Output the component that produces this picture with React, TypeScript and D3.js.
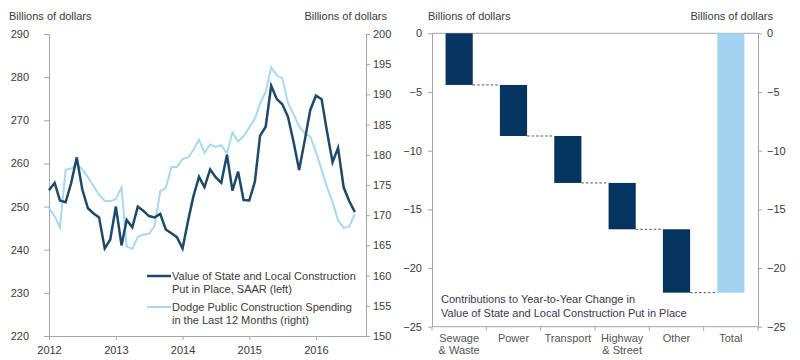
import React, { useEffect, useRef } from 'react'
import * as d3 from 'd3'

// monthly, Jan 2012 .. Aug 2016
const stateLocal: number[] = [
  253.8, 255.5, 251.4, 251.0, 255.4, 261.4, 254.0, 249.6, 248.4, 247.5, 240.3, 242.3,
  250.0, 241.0, 246.9, 245.2, 250.0, 249.0, 247.8, 247.5, 248.3, 244.7, 243.8, 242.9,
  240.3, 246.9, 252.3, 256.9, 254.5, 258.6, 256.8, 255.5, 262.0, 253.7, 258.1, 251.5,
  251.4, 255.8, 266.4, 268.5, 278.0, 274.9, 273.7, 270.8, 264.9, 258.5, 265.4, 272.4,
  275.7, 274.9, 267.5, 260.3, 263.6, 254.4, 251.3, 248.7
]
const dodge: number[] = [
  171.2, 169.8, 168.0, 177.5, 177.7, 178.4, 177.6, 176.3, 174.8, 173.4, 172.4, 172.3,
  172.7, 174.6, 164.8, 164.4, 166.4, 166.8, 166.9, 168.2, 174.0, 174.5, 178.0, 178.0,
  179.3, 179.6, 180.8, 182.5, 180.3, 181.7, 181.3, 181.6, 180.2, 183.7, 182.2, 183.1,
  184.5, 186.0, 188.5, 190.4, 194.5, 193.1, 192.7, 188.6, 186.7, 184.7, 183.6, 183.0,
  180.5, 177.5, 174.7, 172.2, 169.2, 167.9, 168.1, 170.2
]
const leftTicks = [220, 230, 240, 250, 260, 270, 280, 290]
const rightTicks = [150, 155, 160, 165, 170, 175, 180, 185, 190, 195, 200]

const categories = ['Sewage\n& Waste', 'Power', 'Transport', 'Highway\n& Street', 'Other', 'Total']
const contributions = [-4.4, -4.35, -4.0, -3.95, -5.4]
const waterTicks = [-25, -20, -15, -10, -5, 0]

const legendLabels = [
  ['Value of State and Local Construction', 'Put in Place, SAAR (left)'],
  ['Dodge Public Construction Spending', 'in the Last 12 Months (right)']
]
const noteLines = ['Contributions to Year-to-Year Change in', 'Value of State and Local Construction Put in Place']

const DARK = '#1d4a6b'
const LIGHT = '#a9d8f3'
const NAVY = '#04345f'
const AXIS = '#a6a6a6'
const TEXT = '#3a3a3a'
const FONT = '"Liberation Sans", Arial, sans-serif'

export default function App() {
  const ref = useRef<SVGSVGElement>(null)

  useEffect(() => {
    const svg = d3.select(ref.current)
    svg.selectAll('*').remove()
    svg.style('font-family', FONT)

    // ---------- left: line chart ----------
    const months = d3.timeMonth.range(new Date(2012, 0, 1), new Date(2016, 8, 1))
    const x = d3.scaleTime().domain([new Date(2012, 0, 1), new Date(2016, 9, 1)]).range([49, 366])
    const yL = d3.scaleLinear().domain([220, 290]).range([336, 34])
    const yR = d3.scaleLinear().domain([150, 200]).range([336, 34])

    const styleAxis = (g: any) => {
      g.selectAll('path, line').attr('stroke', AXIS)
      g.selectAll('text').attr('fill', TEXT).style('font-size', '11px').style('font-family', FONT)
    }

    svg.append('g').attr('transform', 'translate(49,0)')
      .call(d3.axisLeft(yL).tickValues(leftTicks).tickSize(5).tickSizeOuter(0).tickPadding(15))
      .call(styleAxis)
    svg.append('g').attr('transform', 'translate(366,0)')
      .call(d3.axisRight(yR).tickValues(rightTicks).tickSize(4).tickSizeOuter(0).tickPadding(3))
      .call(styleAxis)
    svg.append('g').attr('transform', 'translate(0,336)')
      .call(d3.axisBottom(x).ticks(d3.timeYear).tickFormat(d3.timeFormat('%Y') as any)
        .tickSize(4).tickSizeOuter(0).tickPadding(6))
      .call(styleAxis)

    const lineL = d3.line<number>().x((d, i) => x(months[i])).y(d => yL(d))
    const lineR = d3.line<number>().x((d, i) => x(months[i])).y(d => yR(d))

    svg.append('path').datum(dodge).attr('d', lineR)
      .attr('fill', 'none').attr('stroke', LIGHT).attr('stroke-width', 2)
    svg.append('path').datum(stateLocal).attr('d', lineL)
      .attr('fill', 'none').attr('stroke', DARK).attr('stroke-width', 2.5)

    svg.append('text').attr('x', 9).attr('y', 20).text('Billions of dollars')
      .attr('fill', TEXT).style('font-size', '11px')
    svg.append('text').attr('x', 387).attr('y', 20).attr('text-anchor', 'end').text('Billions of dollars')
      .attr('fill', TEXT).style('font-size', '11px')

    // legend
    const lg = svg.append('g')
    ;[DARK, LIGHT].forEach((c, i) => {
      const top = 276 + i * 31
      lg.append('line').attr('x1', 147).attr('x2', 171).attr('y1', top).attr('y2', top)
        .attr('stroke', c).attr('stroke-width', i === 0 ? 2.5 : 2)
      legendLabels[i].forEach((t, j) => {
        lg.append('text').attr('x', 172).attr('y', top + 4 + j * 12.5).text(t)
          .attr('fill', TEXT).style('font-size', '11px')
      })
    })

    // ---------- right: waterfall ----------
    const xb = d3.scaleBand().domain(categories).range([432, 758]).paddingInner(0.5).paddingOuter(0.25)
    const yW = d3.scaleLinear().domain([-25, 0]).range([326.7, 33.3])
    const total = d3.sum(contributions)
    const bars = contributions.map((v, i) => {
      const start = d3.sum(contributions.slice(0, i))
      return { cat: categories[i], y0: start, y1: start + v, color: NAVY }
    })
    bars.push({ cat: categories[5], y0: 0, y1: total, color: '#a3d3f1' })

    svg.append('g').attr('transform', 'translate(432,0)')
      .call(d3.axisLeft(yW).tickValues(waterTicks).tickSize(4).tickSizeOuter(0).tickPadding(6))
      .call(styleAxis)
    svg.append('g').attr('transform', 'translate(758,0)')
      .call(d3.axisRight(yW).tickValues(waterTicks).tickSize(4).tickSizeOuter(0).tickPadding(5))
      .call(styleAxis)
    svg.append('line').attr('x1', 432).attr('x2', 758).attr('y1', yW(0)).attr('y2', yW(0)).attr('stroke', AXIS)
    svg.append('line').attr('x1', 432).attr('x2', 758).attr('y1', yW(-25)).attr('y2', yW(-25)).attr('stroke', AXIS)
    const step = xb.step()
    d3.range(categories.length + 1).forEach(i => {
      const px = 432 + i * step
      svg.append('line').attr('x1', px).attr('x2', px).attr('y1', yW(-25)).attr('y2', yW(-25) + 4).attr('stroke', AXIS)
    })

    svg.selectAll('rect.bar').data(bars).enter().append('rect')
      .attr('class', 'bar')
      .attr('x', d => xb(d.cat)!)
      .attr('width', xb.bandwidth())
      .attr('y', d => yW(Math.max(d.y0, d.y1)))
      .attr('height', d => Math.abs(yW(d.y1) - yW(d.y0)))
      .attr('fill', d => d.color)

    // connectors
    bars.slice(0, -1).forEach((b, i) => {
      svg.append('line')
        .attr('x1', xb(b.cat)! + xb.bandwidth()).attr('x2', xb(bars[i + 1].cat)!)
        .attr('y1', yW(b.y1)).attr('y2', yW(b.y1))
        .attr('stroke', '#555').attr('stroke-width', 1).attr('stroke-dasharray', '2.5,2')
    })

    categories.forEach(c => {
      const t = svg.append('text').attr('text-anchor', 'middle').attr('fill', '#555').style('font-size', '11px')
      c.split('\n').forEach((s, j) => {
        t.append('tspan').attr('x', xb(c)! + xb.bandwidth() / 2).attr('y', 342 + j * 11.5).text(s)
      })
    })

    noteLines.forEach((s, j) => {
      svg.append('text').attr('x', 441).attr('y', 303 + j * 13.5).text(s)
        .attr('fill', '#3d3550').style('font-size', '11px')
    })

    svg.append('text').attr('x', 428).attr('y', 20).text('Billions of dollars')
      .attr('fill', TEXT).style('font-size', '11px')
    svg.append('text').attr('x', 773).attr('y', 20).attr('text-anchor', 'end').text('Billions of dollars')
      .attr('fill', TEXT).style('font-size', '11px')
  }, [])

  return (
    <svg ref={ref} width={800} height={360}
      style={{ position: 'fixed', left: 0, top: 0, background: '#fff' }} />
  )
}
